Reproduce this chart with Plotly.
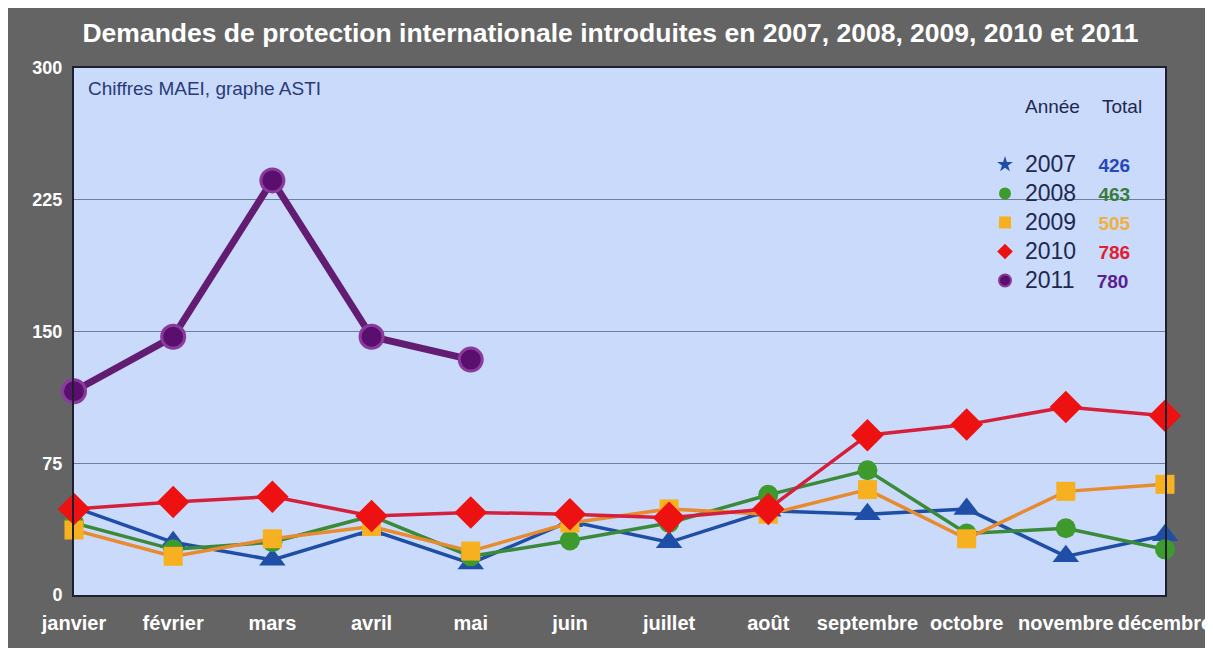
import plotly.graph_objects as go

months = ["janvier", "février", "mars", "avril", "mai", "juin", "juillet",
          "août", "septembre", "octobre", "novembre", "décembre"]
v2007 = [50, 30, 20, 37, 18, 42, 30, 48, 46, 49, 22, 34]
v2008 = [41, 26, 30, 45, 22, 31, 41, 57, 71, 35, 38, 26]
v2009 = [37, 22, 32, 39, 25, 41, 49, 46, 60, 32, 59, 63]
v2010 = [49, 53, 56, 45, 47, 46, 44, 49, 91, 97, 107, 102]
v2011 = [116, 147, 236, 147, 134]
years = ["2007", "2008", "2009", "2010", "2011"]
totals = [426, 463, 505, 786, 780]
y_ticks = [0, 75, 150, 225, 300]

# page has an 8px body margin; figure is sized to fit the window
OFF = 8
W, H = 1213 - OFF, 648 - OFF
PX0, PX1, PY0, PY1 = 74, 1165, 68, 595   # plot area in window pixels
L = PX0 - OFF
T = PY0 - OFF
R = W - (PX1 - OFF)
B = H - (PY1 - OFF)
pw = PX1 - PX0
ph = PY1 - PY0


def px(X):
    return (X - PX0) / pw


def py(Y):
    return (PY1 - Y) / ph


FONT = "Liberation Sans, Arial, sans-serif"

series = [
    dict(y=v2007, line="#1f4ea6", fill="#1f4ea6", sym="triangle-up", leg_sym="star", size=23, lw=3.5, tot="#2748b8"),
    dict(y=v2008, line="#3a8a3a", fill="#3f9a2e", sym="circle", leg_sym="circle", size=20, lw=3.5, tot="#3a7a3a"),
    dict(y=v2009, line="#e88a2e", fill="#f7b020", sym="square", leg_sym="square", size=19, lw=3.5, tot="#f0b040"),
    dict(y=v2010, line="#d4203c", fill="#ee1111", sym="diamond", leg_sym="diamond", size=25, lw=3.5, tot="#e02030"),
    dict(y=v2011, line="#621d72", fill="#5a0f6e", sym="circle", leg_sym="circle", size=23, lw=7, tot="#5a1f90"),
]

fig = go.Figure()
for yr, s in zip(years, series):
    mline = dict(color="#8a3a9c", width=3) if yr == "2011" else dict(width=0)
    fig.add_trace(go.Scatter(
        x=months[:len(s["y"])], y=s["y"], mode="lines+markers",
        line=dict(color=s["line"], width=s["lw"]),
        marker=dict(symbol=s["sym"], size=s["size"], color=s["fill"], line=mline),
        cliponaxis=False, showlegend=False, hoverinfo="x+y", name=yr))

# legend entries (native legend, no data)
for yr, tot, s in zip(years, totals, series):
    mline = dict(color="#8a3a9c", width=2) if yr == "2011" else dict(width=0)
    fig.add_trace(go.Scatter(
        x=[None], y=[None], mode="markers",
        marker=dict(symbol=s["leg_sym"], size=19, color=s["fill"], line=mline),
        name=(f"<span style='font-size:23px'>{yr}</span>&nbsp;&nbsp;&nbsp;&nbsp;"
              f"<span style='color:{s['tot']};font-size:19px'><b>{tot}</b></span>"),
        showlegend=True))

# gray frame and light-blue plot background
fig.add_shape(type="rect", xref="paper", yref="paper", x0=px(7), x1=px(1225), y0=py(660), y1=py(7),
              fillcolor="#646464", line=dict(width=0), layer="below")
fig.add_shape(type="rect", xref="paper", yref="paper", x0=0, x1=1, y0=0, y1=1,
              fillcolor="#c9dafa", line=dict(width=0), layer="below")

fig.update_layout(
    width=W, height=H,
    margin=dict(l=L, r=R, t=T, b=B, pad=0, autoexpand=False),
    paper_bgcolor="white",
    plot_bgcolor="#c9dafa",
    font=dict(family=FONT),
    title=dict(text="<b>Demandes de protection internationale introduites en 2007, 2008, 2009, 2010 et 2011</b>",
               x=0.5, xanchor="center", y=1 - (33 - OFF) / H, yanchor="middle",
               font=dict(size=26.5, color="white", family=FONT)),
    xaxis=dict(type="category", categoryorder="array", categoryarray=months,
               range=[0, 11], showgrid=False, zeroline=False, automargin=False,
               showline=True, linecolor="#1c2030", linewidth=2, mirror=True,
               tickfont=dict(size=20, color="white", family=FONT),
               tickprefix="<b>", ticksuffix="</b>", tickangle=0,
               ticks="", ticklabelstandoff=9),
    yaxis=dict(range=[0, 300], tickvals=y_ticks, ticktext=[f"<b>{v}</b>" for v in y_ticks],
               showgrid=True, gridcolor="#6f7f9a", gridwidth=1, zeroline=False, automargin=False,
               showline=True, linecolor="#1c2030", linewidth=2, mirror=True,
               tickfont=dict(size=18, color="white", family=FONT),
               ticks="", ticklabelstandoff=6),
    legend=dict(x=px(985), y=py(145), xanchor="left", yanchor="top",
                bgcolor="rgba(0,0,0,0)", borderwidth=0,
                font=dict(size=20, color="#1e2850", family=FONT),
                itemsizing="constant", tracegroupgap=0),
    showlegend=True,
)

fig.add_annotation(xref="paper", yref="paper", x=px(86), y=py(88),
                   xanchor="left", yanchor="middle", showarrow=False,
                   text="Chiffres MAEI, graphe ASTI",
                   font=dict(size=19, color="#2a3a78", family=FONT))
fig.add_annotation(xref="paper", yref="paper", x=px(1052), y=py(107),
                   xanchor="center", yanchor="middle", showarrow=False,
                   text="Année", font=dict(size=19, color="#1e2850", family=FONT))
fig.add_annotation(xref="paper", yref="paper", x=px(1122), y=py(107),
                   xanchor="center", yanchor="middle", showarrow=False,
                   text="Total", font=dict(size=19, color="#1e2850", family=FONT))

fig.write_html("out.html")
